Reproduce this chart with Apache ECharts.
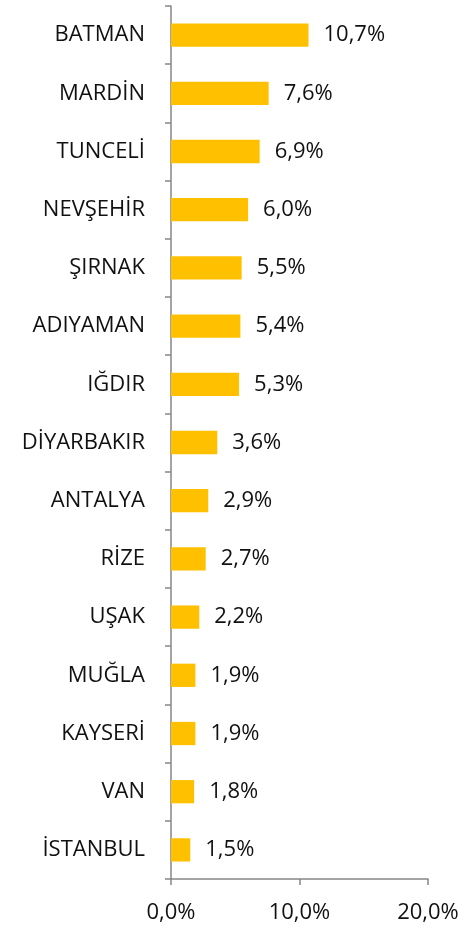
<!DOCTYPE html>
<html>
<head>
<meta charset="utf-8">
<script src="https://cdn.jsdelivr.net/npm/echarts@6/dist/echarts.min.js"></script>
<style>
  html, body { margin: 0; padding: 0; background: #fff; }
  #chart { width: 470px; height: 928px; }
</style>
</head>
<body>
<div id="chart"></div>
<script>
const provinces = ["BATMAN", "MARDİN", "TUNCELİ", "NEVŞEHİR", "ŞIRNAK", "ADIYAMAN", "IĞDIR",
  "DİYARBAKIR", "ANTALYA", "RİZE", "UŞAK", "MUĞLA", "KAYSERİ", "VAN", "İSTANBUL"];
const shares = [10.7, 7.6, 6.9, 6.0, 5.5, 5.4, 5.3, 3.6, 2.9, 2.7, 2.2, 1.9, 1.9, 1.8, 1.5];
const axisTicks = [0, 10, 20];

const pct = v => v.toFixed(1).replace(".", ",") + "%";
const font = "'Open Sans', sans-serif";

const chart = echarts.init(document.getElementById("chart"));
chart.setOption({
  animation: false,
  grid: { left: 171, right: 42, top: 6, bottom: 49 },
  xAxis: {
    type: "value",
    min: axisTicks[0],
    max: axisTicks[axisTicks.length - 1],
    interval: axisTicks[1] - axisTicks[0],
    axisLine: { show: true, lineStyle: { color: "#868686", width: 1.5 } },
    axisTick: { show: true, length: 6, lineStyle: { color: "#868686", width: 1.5 } },
    splitLine: { show: false },
    axisLabel: { color: "#111", fontSize: 22, fontFamily: font, margin: 23, formatter: pct }
  },
  yAxis: {
    type: "category",
    inverse: true,
    data: provinces,
    axisLine: { lineStyle: { color: "#868686", width: 1.5 } },
    axisTick: { show: true, length: 6, lineStyle: { color: "#868686", width: 1.5 } },
    axisLabel: { color: "#111", fontSize: 22, fontFamily: font, margin: 26, padding: [4, 0, 0, 0] }
  },
  series: [{
    type: "bar",
    data: shares,
    barCategoryGap: "60%",
    itemStyle: { color: "#FFC000" },
    label: {
      show: true,
      position: "right",
      distance: 15,
      color: "#111",
      fontSize: 22,
      fontFamily: font,
      padding: [4, 0, 0, 0],
      formatter: p => pct(p.value)
    }
  }]
});
</script>
</body>
</html>
